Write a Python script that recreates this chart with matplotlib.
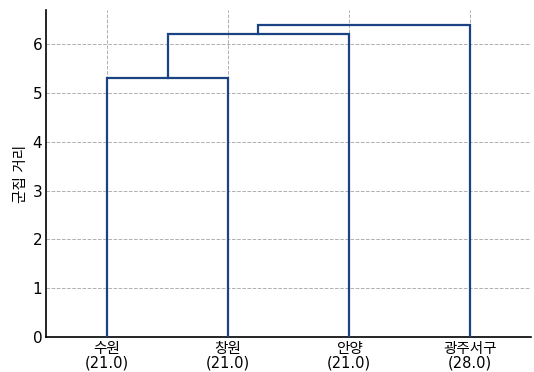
import matplotlib
matplotlib.use('Agg')
import matplotlib.pyplot as plt
import numpy as np

plt.rcParams['font.family'] = ['DejaVu Sans', 'Noto Sans CJK KR']

# leaves (left to right) and their values
leaves = ['수원', '창원', '안양', '광주서구']
leaf_values = [21.0, 21.0, 21.0, 28.0]
# merges: (left cluster id, right cluster id, distance); new ids start at len(leaves)
merges = [(0, 1, 5.3), (4, 2, 6.2), (5, 3, 6.4)]

line_color = '#1b4282'

fig, ax = plt.subplots(figsize=(5.34, 3.72), dpi=100)

# cluster positions: leaves at 5, 15, 25, ...
pos = {i: (5 + 10 * i, 0.0) for i in range(len(leaves))}
for k, (a, b, h) in enumerate(merges):
    xa, ya = pos[a]
    xb, yb = pos[b]
    ax.plot([xa, xa, xb, xb], [ya, h, h, yb], color=line_color, lw=1.6,
            solid_joinstyle='miter', zorder=3)
    pos[len(leaves) + k] = ((xa + xb) / 2, h)

ax.set_xlim(0, 10 * len(leaves))
ax.set_ylim(0, max(m[2] for m in merges) * 1.047)
ax.set_xticks([5 + 10 * i for i in range(len(leaves))])
ax.set_xticklabels([f'{n}\n({v:.1f})' for n, v in zip(leaves, leaf_values)],
                   linespacing=0.95)
ax.set_yticks(range(0, 7))
ax.tick_params(axis='both', length=0, labelsize=11, pad=3)
ax.tick_params(axis='x', labelsize=10.5, pad=3)
ax.set_ylabel('군집 거리', fontsize=10.5, labelpad=3)

ax.grid(True, color='#b0b0b0', linestyle='--', linewidth=0.7, zorder=0)
ax.set_axisbelow(True)
ax.spines['top'].set_visible(False)
ax.spines['right'].set_visible(False)
ax.spines['left'].set_linewidth(1.2)
ax.spines['bottom'].set_linewidth(1.2)

fig.subplots_adjust(left=0.087, right=0.994, top=0.973, bottom=0.094)
fig.savefig('out.png', dpi=100)
